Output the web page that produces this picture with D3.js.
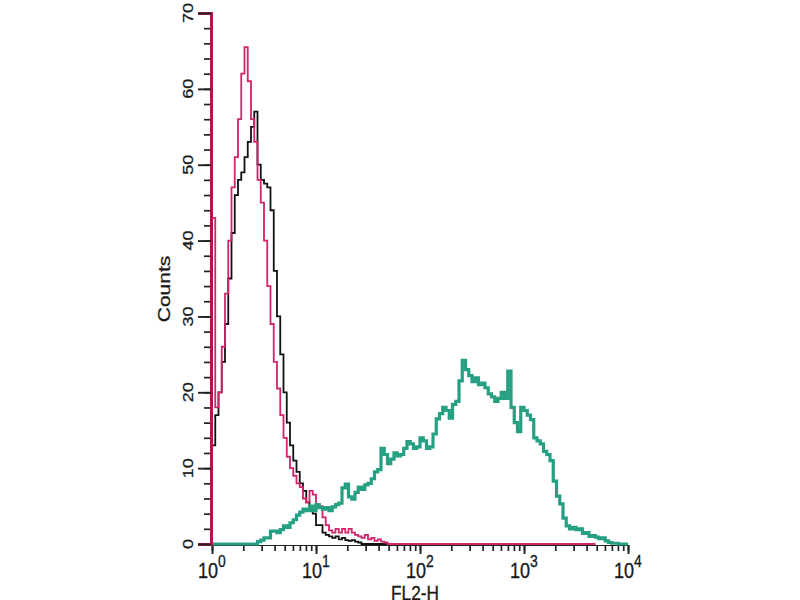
<!DOCTYPE html>
<html>
<head>
<meta charset="utf-8">
<script src="https://cdn.jsdelivr.net/npm/d3@7"></script>
<style>
  html, body { margin: 0; padding: 0; background: #fff; }
  svg { display: block; font-family: "Liberation Sans", Arial, sans-serif; }
  .lbl { fill: #1a1a1a; stroke: #1a1a1a; stroke-width: 0.35; }
</style>
</head>
<body>
<div id="chart"></div>
<script>
// histogram channels, 32 per decade starting at 10^0
var channelsPerDecade = 32;

// counts per channel
var isotype = [13, 17, 20, 24, 29, 35, 41, 46, 48, 49, 51, 53, 55, 57, 50, 48,
  47.5, 47, 44, 36, 30, 25, 20, 16, 13, 11, 9.5, 8, 7, 5.5, 4.5, 4, 2.5, 2.5,
  1.5, 1.2, 1, 0.8, 1, 0.6, 0.8, 0.5, 0.4, 0.5, 0.3, 0.2, 0, 0, 0, 0, 0, 0, 0, 0, 0, 0];

var unstained = [43, 18, 20, 26, 33, 40, 47, 51, 56, 62, 65.5, 61, 56, 53, 48, 45,
  40, 34, 29, 24, 20.5, 17, 14, 11.5, 10, 9, 8, 7.5, 6, 5.5, 7, 6.5, 5, 5, 3.5,
  2.5, 1.8, 1.5, 2, 1.5, 2, 1.5, 2, 1.5, 1.2, 1, 0.8, 1.2, 0.6, 0.8, 0.4, 0.6,
  0.3, 0.2, 0, 0, 0, 0, 0, 0, 0, 0, 0, 0, 0, 0, 0, 0, 0, 0, 0, 0, 0, 0, 0, 0,
  0, 0, 0, 0, 0, 0, 0, 0, 0, 0, 0, 0, 0, 0, 0, 0, 0, 0, 0, 0, 0, 0, 0, 0, 0, 0,
  0, 0, 0, 0, 0, 0, 0, 0, 0, 0, 0, 0, 0, 0, 0, 0];

var stained = [0, 0, 0, 0, 0, 0, 0, 0, 0, 0, 0, 0, 0, 0, 0.3, 0.5, 0.8, 0.8, 1.7,
  1.7, 1.5, 1.9, 2.4, 2.2, 2.8, 3.2, 3.8, 4.2, 4.6, 4.4, 5, 4.4, 5.2, 4.8, 4.6,
  4.8, 4.4, 4.9, 5.2, 5.4, 7.4, 7.9, 6.2, 5.9, 6.8, 7.5, 7.2, 7.8, 8, 8.6, 9.5,
  9.8, 12.6, 11.8, 10.6, 11.2, 12, 11.6, 11.8, 12.6, 13.5, 13.2, 12.6, 12.8, 14,
  13.6, 12.6, 12.8, 14.5, 16.5, 17.2, 18, 17.6, 16.6, 18.4, 18.8, 21.5, 24.2, 23,
  22.2, 21.4, 21.9, 21, 21.2, 20.6, 19.8, 19.4, 18.8, 19.2, 20, 19.2, 22.8, 18,
  16, 14.8, 18, 17.6, 17, 16.4, 14, 13.6, 13.2, 12.2, 11.8, 11, 8.3, 6.3, 5.3,
  3.4, 2.4, 2, 2.2, 1.9, 2, 1.4, 1.5, 1, 1.1, 0.9, 0.7, 0.8, 0.4, 0.2, 0.1, 0.1,
  0, 0, 0];

var yMajor = [0, 10, 20, 30, 40, 50, 60, 70];
var xMajor = [1, 10, 100, 1000, 10000];
var xLabelExp = ["0", "1", "2", "3", "4"];

var width = 800, height = 600;
var squeeze = 0.82; // text in the picture is horizontally condensed

var svg = d3.select("#chart").append("svg")
    .attr("width", width)
    .attr("height", height);

var x = d3.scaleLog().domain([1, 10000]).range([212, 628]);
var y = d3.scaleLinear().domain([0, 70]).range([544, 13]);

function edge(i) { return Math.pow(10, i / channelsPerDecade); }

var line = d3.line()
    .x(function(d) { return x(d[0]); })
    .y(function(d) { return y(d[1]); })
    .curve(d3.curveStepAfter);

function steps(values) {
  var pts = [[edge(0), 0]];
  values.forEach(function(v, i) { pts.push([edge(i), v]); });
  pts.push([edge(values.length), values[values.length - 1]]);
  return pts;
}

// x axis (minor + major ticks)
svg.append("g")
    .attr("transform", "translate(0,545)")
    .call(d3.axisBottom(x).tickValues(x.ticks()).tickSize(6).tickFormat(""))
    .call(function(g) {
      g.select(".domain").attr("stroke", "#222").attr("stroke-width", 1.2);
      g.selectAll(".tick line").attr("stroke", "#222").attr("stroke-width", 1.7);
    });
svg.append("g")
    .attr("transform", "translate(0,545)")
    .call(d3.axisBottom(x).tickValues(xMajor).tickSize(9).tickFormat(""))
    .call(function(g) {
      g.select(".domain").remove();
      g.selectAll(".tick line").attr("stroke", "#222").attr("stroke-width", 1.9);
    });

// histograms
svg.append("path")
    .attr("d", line(steps(isotype)))
    .attr("fill", "none")
    .attr("stroke", "#111")
    .attr("stroke-width", 1.8);

svg.append("path")
    .attr("d", line(steps(unstained)))
    .attr("fill", "none")
    .attr("stroke", "#d1246b")
    .attr("stroke-width", 1.8);

svg.append("path")
    .attr("d", line(steps(stained)))
    .attr("fill", "none")
    .attr("stroke", "#26a082")
    .attr("stroke-width", 3.2);

// y axis
svg.append("g")
    .attr("transform", "translate(211,0)")
    .call(d3.axisLeft(y).tickValues(d3.range(0, 71, 2)).tickSize(7).tickFormat(""))
    .call(function(g) {
      g.select(".domain").remove();
      g.selectAll(".tick line").attr("stroke", "#222").attr("stroke-width", 1.7);
    });
svg.append("g")
    .attr("transform", "translate(211,0)")
    .call(d3.axisLeft(y).tickValues(yMajor).tickSize(13).tickFormat(""))
    .call(function(g) {
      g.select(".domain").attr("stroke", "#b3164f").attr("stroke-width", 3);
      g.selectAll(".tick line").attr("stroke", "#222").attr("stroke-width", 1.9);
    });

// y tick labels, rotated
svg.append("g").selectAll("text")
    .data(yMajor)
    .enter().append("text")
    .attr("class", "lbl")
    .attr("transform", function(d) {
      return "translate(193," + y(d) + ") scale(" + squeeze + ",1) rotate(-90)";
    })
    .attr("text-anchor", "middle")
    .attr("font-size", 18)
    .text(function(d) { return d; });

// x tick labels 10^n
var xl = svg.append("g").selectAll("g")
    .data(xMajor)
    .enter().append("g");
xl.append("text")
    .attr("class", "lbl")
    .attr("transform", function(d) {
      return "translate(" + (x(d) + 6) + ",578) scale(" + squeeze + ",1)";
    })
    .attr("text-anchor", "end")
    .attr("font-size", 22)
    .text("10");
xl.append("text")
    .attr("class", "lbl")
    .attr("transform", function(d) {
      return "translate(" + (x(d) + 6) + ",567) scale(" + squeeze + ",1)";
    })
    .attr("font-size", 17)
    .text(function(d, i) { return xLabelExp[i]; });

// axis titles
svg.append("text")
    .attr("class", "lbl")
    .attr("transform", "translate(415,600) scale(" + squeeze + ",1)")
    .attr("text-anchor", "middle")
    .attr("font-size", 21)
    .text("FL2-H");

svg.append("text")
    .attr("class", "lbl")
    .attr("transform", "translate(170,289) scale(" + squeeze + ",1) rotate(-90)")
    .attr("text-anchor", "middle")
    .attr("font-size", 21)
    .text("Counts");
</script>
</body>
</html>
